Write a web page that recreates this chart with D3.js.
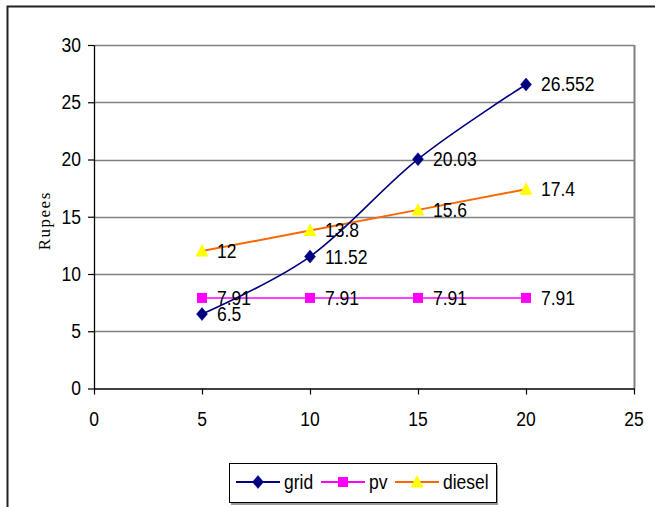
<!DOCTYPE html>
<html>
<head>
<meta charset="utf-8">
<script src="https://cdn.jsdelivr.net/npm/d3@7"></script>
<style>
  html, body { margin: 0; padding: 0; background: #fff; }
  svg { display: block; }
  text { font-family: "Liberation Sans", Arial, sans-serif; fill: #000; }
</style>
</head>
<body>
<svg id="chart" width="655" height="507"></svg>
<script>
const years = [5, 10, 15, 20];
const grid = [6.5, 11.52, 20.03, 26.552];
const pv = [7.91, 7.91, 7.91, 7.91];
const diesel = [12, 13.8, 15.6, 17.4];
const seriesNames = ["grid", "pv", "diesel"];
const xTicks = [0, 5, 10, 15, 20, 25];
const yTicks = [0, 5, 10, 15, 20, 25, 30];
const yTitle = "Rupees";

(function () {
const svg = d3.select("#chart");
const W = 655, H = 507;
const SY = 1.17, FS = 17.5;

const pLeft = 94, pRight = 634, pTop = 45, pBottom = 388.5;
const x = d3.scaleLinear().domain([0, 25]).range([pLeft, pRight]);
const y = d3.scaleLinear().domain([0, 30]).range([pBottom, pTop]);

function label(g, tx, ty, str, anchor) {
  return g.append("text")
    .attr("transform", `translate(${tx},${ty}) scale(1,${SY})`)
    .attr("text-anchor", anchor || "start")
    .attr("dominant-baseline", "central")
    .style("font-size", FS + "px")
    .text(str);
}

svg.append("rect").attr("width", W).attr("height", H).attr("fill", "#fff");
svg.append("rect").attr("x", 7.5).attr("y", 6.5).attr("width", 720).attr("height", 620)
  .attr("fill", "none").attr("stroke", "#222").attr("stroke-width", 2);

svg.append("g").selectAll("line").data(yTicks.filter(d => d > 0)).join("line")
  .attr("x1", pLeft).attr("x2", pRight)
  .attr("y1", d => Math.round(y(d)) + 0.5).attr("y2", d => Math.round(y(d)) + 0.5)
  .attr("stroke", "#808080").attr("stroke-width", 1.3);
svg.append("line").attr("x1", pRight + 0.5).attr("x2", pRight + 0.5).attr("y1", pTop).attr("y2", pBottom)
  .attr("stroke", "#808080").attr("stroke-width", 2);

const yAxis = svg.append("g").attr("transform", `translate(${pLeft},0)`)
  .call(d3.axisLeft(y).tickValues(yTicks).tickSize(6).tickSizeOuter(0).tickFormat(d3.format("d")));
const xAxis = svg.append("g").attr("transform", `translate(0,${pBottom})`)
  .call(d3.axisBottom(x).tickValues(xTicks).tickSize(6).tickSizeOuter(0).tickFormat(d3.format("d")));
[yAxis, xAxis].forEach(a => {
  a.select(".domain").attr("stroke", "#000").attr("stroke-width", 1.3);
  a.selectAll(".tick line").attr("stroke", "#000").attr("stroke-width", 1.2);
  a.selectAll(".tick text").remove();
  a.attr("font-family", null).attr("font-size", null);
});
const yl = svg.append("g");
yTicks.forEach(t => label(yl, 81, y(t), String(t), "end"));
const xl = svg.append("g");
xTicks.forEach(t => label(xl, x(t), 419, String(t), "middle"));

svg.append("text")
  .attr("transform", `translate(44,${(pTop + pBottom) / 2 + 4}) rotate(-90)`)
  .attr("text-anchor", "middle").attr("dominant-baseline", "central")
  .style("font-family", '"Liberation Serif", "Times New Roman", serif')
  .style("font-size", "17px").style("letter-spacing", "1.5px")
  .text(yTitle);

const colors = { grid: "#000080", pv: "#FF00FF", diesel: "#FF6600" };
const markerColors = { grid: "#000080", pv: "#FF00FF", diesel: "#FFFF00" };
const data = { grid, pv, diesel };

function marker(g, name, cx, cy) {
  if (name === "grid") {
    g.append("path").attr("d", `M${cx},${cy - 6.5}L${cx + 5.5},${cy}L${cx},${cy + 6.5}L${cx - 5.5},${cy}Z`)
      .attr("fill", markerColors.grid).attr("stroke", markerColors.grid).attr("stroke-width", 0.5);
  } else if (name === "pv") {
    g.append("rect").attr("x", cx - 5).attr("y", cy - 5).attr("width", 10).attr("height", 10)
      .attr("fill", markerColors.pv);
  } else {
    g.append("path").attr("d", `M${cx},${cy - 7}L${cx + 6.5},${cy + 5.5}L${cx - 6.5},${cy + 5.5}Z`)
      .attr("fill", markerColors.diesel);
  }
}

const lineStraight = d3.line().x(d => x(d[0])).y(d => y(d[1]));
const lineSmooth = d3.line().x(d => x(d[0])).y(d => y(d[1])).curve(d3.curveCardinal.tension(0));

["diesel", "pv", "grid"].forEach(name => {
  const pts = years.map((yr, i) => [yr, data[name][i]]);
  svg.append("path").datum(pts)
    .attr("d", name === "grid" ? lineSmooth : lineStraight)
    .attr("fill", "none").attr("stroke", colors[name])
    .attr("stroke-width", name === "diesel" ? 2 : 1.6);
});
const mg = svg.append("g");
["diesel", "pv", "grid"].forEach(name => {
  years.forEach((yr, i) => marker(mg, name, x(yr), y(data[name][i])));
});
const lg = svg.append("g");
["diesel", "pv", "grid"].forEach(name => {
  years.forEach((yr, i) => label(lg, x(yr) + 15, y(data[name][i]), String(data[name][i]), "start"));
});

const leg = svg.append("g");
leg.append("rect").attr("x", 231).attr("y", 465).attr("width", 267).attr("height", 40).attr("fill", "#999");
leg.append("rect").attr("x", 229.5).attr("y", 463.5).attr("width", 267).attr("height", 39)
  .attr("fill", "#fff").attr("stroke", "#000").attr("stroke-width", 1);
const legX = [236, 321, 395];
seriesNames.forEach((name, i) => {
  const lx = legX[i], ly = 482;
  leg.append("line").attr("x1", lx).attr("x2", lx + 44).attr("y1", ly).attr("y2", ly)
    .attr("stroke", colors[name]).attr("stroke-width", 2);
  marker(leg, name, lx + 22, ly);
  label(leg, lx + 48, ly, name, "start");
});
})();
</script>
</body>
</html>
